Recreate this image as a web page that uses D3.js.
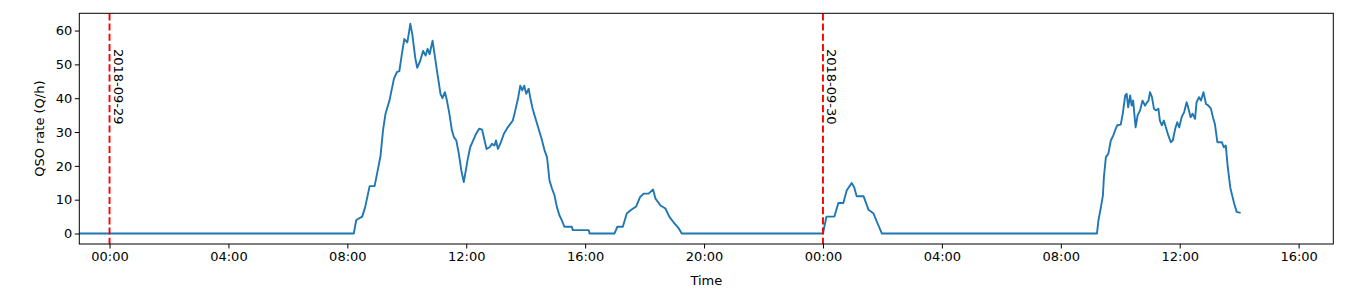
<!DOCTYPE html>
<html>
<head>
<meta charset="utf-8">
<script src="https://cdn.jsdelivr.net/npm/d3@7"></script>
<style>
    body { margin: 0; background: #fff; }
    svg text { font-family: 'DejaVu Sans', sans-serif; font-size: 13px; fill: #000; }
</style>
</head>
<body>
<svg id="chart"></svg>
<script>
// QSO rate samples (time, Q/h)
const times = [
    '2018-09-28 22:00', '2018-09-29 08:13', '2018-09-29 08:18', '2018-09-29 08:30', '2018-09-29 08:36',
    '2018-09-29 08:45', '2018-09-29 08:55', '2018-09-29 09:00', '2018-09-29 09:07', '2018-09-29 09:12',
    '2018-09-29 09:17', '2018-09-29 09:25', '2018-09-29 09:34', '2018-09-29 09:40', '2018-09-29 09:45',
    '2018-09-29 09:50', '2018-09-29 09:55', '2018-09-29 10:01', '2018-09-29 10:05', '2018-09-29 10:07',
    '2018-09-29 10:11', '2018-09-29 10:17', '2018-09-29 10:21', '2018-09-29 10:27', '2018-09-29 10:33',
    '2018-09-29 10:38', '2018-09-29 10:42', '2018-09-29 10:46', '2018-09-29 10:52', '2018-09-29 10:56',
    '2018-09-29 11:01', '2018-09-29 11:08', '2018-09-29 11:12', '2018-09-29 11:17', '2018-09-29 11:21',
    '2018-09-29 11:26', '2018-09-29 11:31', '2018-09-29 11:35', '2018-09-29 11:40', '2018-09-29 11:45',
    '2018-09-29 11:50', '2018-09-29 11:55', '2018-09-29 11:58', '2018-09-29 12:03', '2018-09-29 12:08',
    '2018-09-29 12:14', '2018-09-29 12:20', '2018-09-29 12:26', '2018-09-29 12:32', '2018-09-29 12:37',
    '2018-09-29 12:41', '2018-09-29 12:47', '2018-09-29 12:52', '2018-09-29 12:57', '2018-09-29 13:00',
    '2018-09-29 13:04', '2018-09-29 13:10', '2018-09-29 13:16', '2018-09-29 13:22', '2018-09-29 13:29',
    '2018-09-29 13:34', '2018-09-29 13:39', '2018-09-29 13:45', '2018-09-29 13:49', '2018-09-29 13:53',
    '2018-09-29 13:57', '2018-09-29 14:01', '2018-09-29 14:06', '2018-09-29 14:09', '2018-09-29 14:14',
    '2018-09-29 14:19', '2018-09-29 14:26', '2018-09-29 14:32', '2018-09-29 14:38', '2018-09-29 14:43',
    '2018-09-29 14:48', '2018-09-29 14:53', '2018-09-29 14:58', '2018-09-29 15:03', '2018-09-29 15:08',
    '2018-09-29 15:13', '2018-09-29 15:18', '2018-09-29 15:33', '2018-09-29 15:35', '2018-09-29 16:07',
    '2018-09-29 16:09', '2018-09-29 16:59', '2018-09-29 17:05', '2018-09-29 17:16', '2018-09-29 17:24',
    '2018-09-29 17:33', '2018-09-29 17:43', '2018-09-29 17:51', '2018-09-29 17:58', '2018-09-29 18:08',
    '2018-09-29 18:17', '2018-09-29 18:22', '2018-09-29 18:32', '2018-09-29 18:42', '2018-09-29 18:50',
    '2018-09-29 18:58', '2018-09-29 19:09', '2018-09-29 19:15',
    '2018-09-30 00:00', '2018-09-30 00:07', '2018-09-30 00:23', '2018-09-30 00:31', '2018-09-30 00:41',
    '2018-09-30 00:48', '2018-09-30 00:58', '2018-09-30 01:03', '2018-09-30 01:08', '2018-09-30 01:22',
    '2018-09-30 01:32', '2018-09-30 01:42', '2018-09-30 01:49', '2018-09-30 01:59',
    '2018-09-30 09:13', '2018-09-30 09:16', '2018-09-30 09:21', '2018-09-30 09:25', '2018-09-30 09:27',
    '2018-09-30 09:31', '2018-09-30 09:36', '2018-09-30 09:41', '2018-09-30 09:46', '2018-09-30 09:52',
    '2018-09-30 09:54', '2018-09-30 10:01', '2018-09-30 10:05', '2018-09-30 10:10', '2018-09-30 10:13',
    '2018-09-30 10:16', '2018-09-30 10:20', '2018-09-30 10:23', '2018-09-30 10:26', '2018-09-30 10:31',
    '2018-09-30 10:35', '2018-09-30 10:40', '2018-09-30 10:45', '2018-09-30 10:50', '2018-09-30 10:54',
    '2018-09-30 10:57', '2018-09-30 11:00', '2018-09-30 11:04', '2018-09-30 11:08', '2018-09-30 11:12',
    '2018-09-30 11:17', '2018-09-30 11:20', '2018-09-30 11:24', '2018-09-30 11:28', '2018-09-30 11:32',
    '2018-09-30 11:37', '2018-09-30 11:42', '2018-09-30 11:46', '2018-09-30 11:51', '2018-09-30 11:55',
    '2018-09-30 11:59', '2018-09-30 12:04', '2018-09-30 12:09', '2018-09-30 12:14', '2018-09-30 12:17',
    '2018-09-30 12:22', '2018-09-30 12:26', '2018-09-30 12:31', '2018-09-30 12:34', '2018-09-30 12:39',
    '2018-09-30 12:43', '2018-09-30 12:48', '2018-09-30 12:53', '2018-09-30 12:58', '2018-09-30 13:03',
    '2018-09-30 13:07', '2018-09-30 13:11', '2018-09-30 13:16', '2018-09-30 13:25', '2018-09-30 13:29',
    '2018-09-30 13:33', '2018-09-30 13:37', '2018-09-30 13:42', '2018-09-30 13:45', '2018-09-30 13:50',
    '2018-09-30 13:55', '2018-09-30 14:03'
];

const rates = [
    0, 0, 4, 5, 7.8,
    14, 14, 17.7, 23, 30.5,
    35.4, 39.3, 45.7, 47.7, 48,
    53, 57.5, 56.5, 60, 62,
    59, 52, 49, 51, 54,
    52.6, 54.6, 53, 57, 53,
    48, 41.3, 40, 41.8, 39.3,
    35.4, 30.5, 28.5, 27.5, 23.6,
    18.7, 15.2, 17.7, 22, 25.5,
    27.5, 29.5, 31, 30.7, 27.5,
    25, 25.5, 26.5, 26, 27.5,
    25, 27, 29.5, 31, 32.4,
    33.4, 36.4, 40.3, 43.7, 42.3,
    43.7, 41.3, 42.8, 40.3, 36.9,
    34.4, 31, 28, 24.6, 22.6,
    15.7, 13.3, 11.3, 7.8, 5.4,
    3.9, 2, 2, 1, 1,
    0, 0, 2, 2, 5.9,
    7, 8, 10.8, 11.8, 11.8,
    13, 10.3, 8.3, 7.4, 4.9,
    3.4, 1.5, 0,
    0, 5, 5, 9, 9,
    12.8, 14.9, 13.7, 11, 11,
    7, 5.9, 3.4, 0,
    0, 3.9, 7.8, 11.3, 16.7,
    22.6, 23.6, 27.5, 29, 31.4,
    32, 32.2, 35.4, 40.8, 41.3,
    37.3, 40.8, 37.8, 39.3, 31.4,
    34.9, 36.4, 39.3, 37.8, 38.8,
    39.3, 41.8, 40.3, 36.9, 36.4,
    36.9, 33.4, 32, 33.4, 31.4,
    29, 27, 27.5, 31, 32.9,
    31.4, 34.4, 35.9, 38.8, 37.3,
    34.4, 35.4, 33.9, 38.8, 40.3,
    39.3, 41.8, 38.3, 37.8, 36.9,
    34.4, 32.4, 27, 27, 25.5,
    26, 19.6, 13.7, 11.8, 8.8,
    6.4, 6.1
];

const dayMarks = ['2018-09-29', '2018-09-30'];
const xDomain = ['2018-09-28 22:59', '2018-09-30 17:10'];
const yTicks = [0, 10, 20, 30, 40, 50, 60];

function RateChart(id, width, height) {
    const margin = {top: 13.3, right: 12.7, bottom: 53, left: 79.3};
    const parseTime = d3.utcParse('%Y-%m-%d %H:%M');
    const parseDay = d3.utcParse('%Y-%m-%d');

    const x = d3.scaleUtc()
        .domain(xDomain.map(parseTime))
        .range([margin.left, width - margin.right]);

    const y = d3.scaleLinear()
        .domain([-3.1, 65.1])
        .range([height - margin.bottom, margin.top]);

    const chart = d3.select(id)
        .attr('width', width)
        .attr('height', height);

    chart.selectAll('*').remove();

    chart.append('clipPath')
        .attr('id', 'plot-clip')
        .append('rect')
        .attr('x', margin.left)
        .attr('y', margin.top)
        .attr('width', width - margin.left - margin.right)
        .attr('height', height - margin.top - margin.bottom);

    const data = times.map(function(t, i) {
        return {time: parseTime(t), rate: rates[i]};
    });

    const line = d3.line()
        .x(function(d) { return x(d.time); })
        .y(function(d) { return y(d.rate); });

    const plot = chart.append('g')
        .attr('clip-path', 'url(#plot-clip)');

    plot.append('path')
        .datum(data)
        .attr('fill', 'none')
        .attr('stroke', '#1f77b4')
        .attr('stroke-width', 1.9)
        .attr('stroke-linejoin', 'round')
        .attr('d', line);

    plot.selectAll('.day')
        .data(dayMarks)
        .enter()
        .append('line')
        .attr('class', 'day')
        .attr('x1', function(d) { return x(parseDay(d)); })
        .attr('x2', function(d) { return x(parseDay(d)); })
        .attr('y1', margin.top)
        .attr('y2', height - margin.bottom)
        .attr('stroke', '#ff0000')
        .attr('stroke-width', 1.9)
        .attr('stroke-dasharray', '7.1,3.1');

    chart.selectAll('.day-label')
        .data(dayMarks)
        .enter()
        .append('text')
        .attr('class', 'day-label')
        .attr('transform', function(d) {
            return `translate(${x(parseDay(d)) + 4.5}, 49) rotate(90)`;
        })
        .attr('text-anchor', 'start')
        .text(function(d) { return d; });

    // axes
    const xAxis = chart.append('g')
        .attr('transform', `translate(0, ${height - margin.bottom})`)
        .call(d3.axisBottom(x)
            .ticks(d3.utcHour.every(4))
            .tickFormat(d3.utcFormat('%H:%M'))
            .tickSize(4.5)
            .tickPadding(3.5));

    const yAxis = chart.append('g')
        .attr('transform', `translate(${margin.left}, 0)`)
        .call(d3.axisLeft(y)
            .tickValues(yTicks)
            .tickSize(4.5)
            .tickPadding(2.5));

    [xAxis, yAxis].forEach(function(axis) {
        axis.select('.domain').remove();
        axis.selectAll('line').attr('stroke', '#000').attr('stroke-width', 1);
        axis.selectAll('text')
            .attr('fill', '#000')
            .style('font-family', "'DejaVu Sans', sans-serif")
            .style('font-size', '13px');
    });

    chart.append('rect')
        .attr('x', margin.left)
        .attr('y', margin.top)
        .attr('width', width - margin.left - margin.right)
        .attr('height', height - margin.top - margin.bottom)
        .attr('fill', 'none')
        .attr('stroke', '#000')
        .attr('stroke-width', 1);

    chart.append('text')
        .attr('x', (margin.left + width - margin.right) / 2)
        .attr('y', 285)
        .attr('text-anchor', 'middle')
        .text('Time');

    chart.append('text')
        .attr('transform', `translate(43.5, ${(margin.top + height - margin.bottom) / 2}) rotate(-90)`)
        .attr('text-anchor', 'middle')
        .text('QSO rate (Q/h)');
}

RateChart('#chart', 1346, 297);
</script>
</body>
</html>
